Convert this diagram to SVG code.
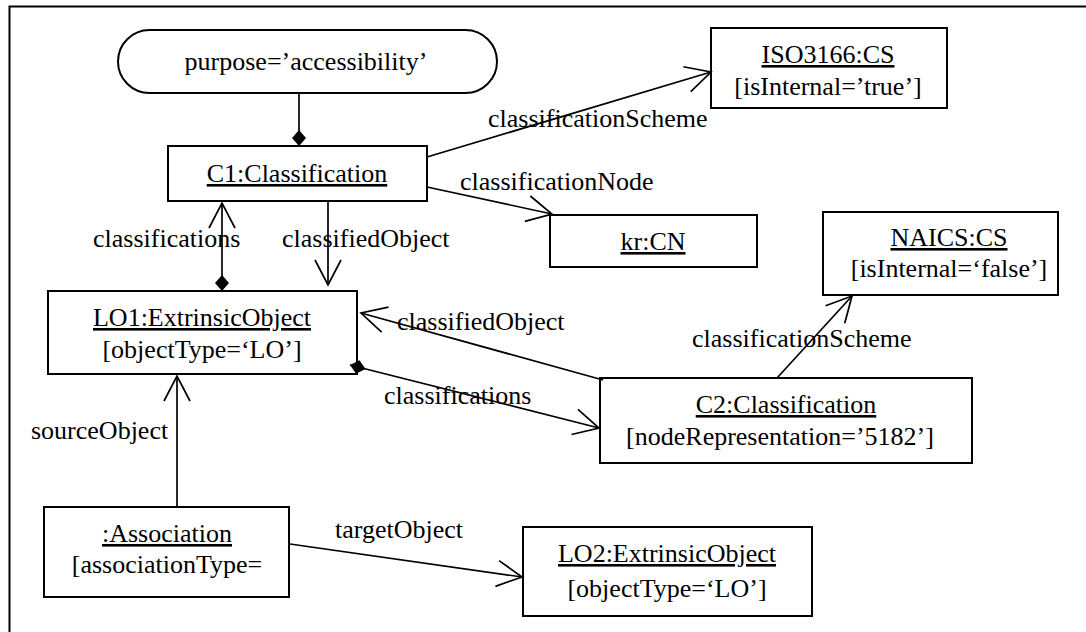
<svg xmlns="http://www.w3.org/2000/svg" width="1086" height="632" viewBox="0 0 1086 632">
<style>
.box{fill:#fff;stroke:#000;stroke-width:2}
.t{font-family:"Liberation Serif","Times New Roman",serif;font-size:26px;fill:#000}
.c{text-anchor:middle}
.u{text-decoration:underline}
.ln{fill:none;stroke:#000;stroke-width:1.7}
</style>
<defs>
<marker id="arr" markerUnits="userSpaceOnUse" viewBox="-30 -16 32 32" markerWidth="32" markerHeight="32" refX="0" refY="0" orient="auto" overflow="visible">
<path d="M-25,-13 L0,0 L-25,13" fill="none" stroke="#000" stroke-width="1.7"/>
</marker>
<marker id="dia" markerUnits="userSpaceOnUse" viewBox="-2 -10 20 20" markerWidth="20" markerHeight="20" refX="0" refY="0" orient="auto" overflow="visible">
<path d="M0,0 L8,-7 L16,0 L8,7 Z" fill="#000"/>
</marker>
</defs>
<rect x="0" y="0" width="1086" height="632" fill="#fff"/>
<path d="M9.5,632 V6.5 H1086" fill="none" stroke="#000" stroke-width="2"/>

<g id="purpose">
<rect class="box" x="118" y="30" width="379" height="63" rx="31.5" ry="31.5"/>
<text class="t c" x="306" y="70">purpose=’accessibility’</text>
</g>
<g id="c1">
<rect class="box" x="168" y="146" width="259" height="55"/>
<text class="t c u" x="297" y="182">C1:Classification</text>
</g>
<g id="iso">
<rect class="box" x="711" y="28" width="236" height="80"/>
<text class="t c u" x="828" y="63">ISO3166:CS</text>
<text class="t c" x="828" y="95">[isInternal=’true’]</text>
</g>
<g id="krcn">
<rect class="box" x="550" y="215" width="207" height="52"/>
<text class="t c u" x="653" y="250">kr:CN</text>
</g>
<g id="naics">
<rect class="box" x="823" y="212" width="235" height="83"/>
<text class="t c u" x="949" y="246">NAICS:CS</text>
<text class="t c" x="949" y="277">[isInternal=‘false’]</text>
</g>
<g id="lo1">
<rect class="box" x="48" y="291" width="309" height="83"/>
<text class="t c u" x="202" y="326">LO1:ExtrinsicObject</text>
<text class="t c" x="202" y="358">[objectType=‘LO’]</text>
</g>
<g id="c2">
<rect class="box" x="600" y="378" width="372" height="85"/>
<text class="t c u" x="786" y="413">C2:Classification</text>
<text class="t c" x="780" y="445">[nodeRepresentation=’5182’]</text>
</g>
<g id="assoc">
<rect class="box" x="44" y="507" width="245" height="90"/>
<text class="t c u" x="167" y="542">:Association</text>
<text class="t c" x="167" y="573">[associationType=</text>
</g>
<g id="lo2">
<rect class="box" x="523" y="527" width="289" height="89"/>
<text class="t c u" x="667" y="562">LO2:ExtrinsicObject</text>
<text class="t c" x="667" y="597">[objectType=‘LO’]</text>
</g>

<g id="connectors">
<line class="ln" x1="299" y1="146" x2="299" y2="93" marker-start="url(#dia)"/>
<line class="ln" x1="427" y1="157" x2="711" y2="72" marker-end="url(#arr)"/>
<line class="ln" x1="427" y1="187" x2="552" y2="214" marker-end="url(#arr)"/>
<line class="ln" x1="222" y1="291" x2="222" y2="203" marker-start="url(#dia)" marker-end="url(#arr)"/>
<line class="ln" x1="328" y1="201" x2="328" y2="285" marker-end="url(#arr)"/>
<line class="ln" x1="603" y1="380" x2="361" y2="313" marker-end="url(#arr)"/>
<line class="ln" x1="350" y1="365" x2="599" y2="428" marker-start="url(#dia)" marker-end="url(#arr)"/>
<line class="ln" x1="777" y1="378" x2="852" y2="296" marker-end="url(#arr)"/>
<line class="ln" x1="177" y1="507" x2="177" y2="376" marker-end="url(#arr)"/>
<line class="ln" x1="290" y1="544" x2="522" y2="577" marker-end="url(#arr)"/>
<text class="t" x="488" y="127">classificationScheme</text>
<text class="t" x="460" y="190">classificationNode</text>
<text class="t" x="93" y="247">classifications</text>
<text class="t" x="282" y="247">classifiedObject</text>
<text class="t" x="397" y="330">classifiedObject</text>
<text class="t" x="384" y="404">classifications</text>
<text class="t" x="692" y="347">classificationScheme</text>
<text class="t" x="31" y="439">sourceObject</text>
<text class="t" x="335" y="538">targetObject</text>
</g>
</svg>
